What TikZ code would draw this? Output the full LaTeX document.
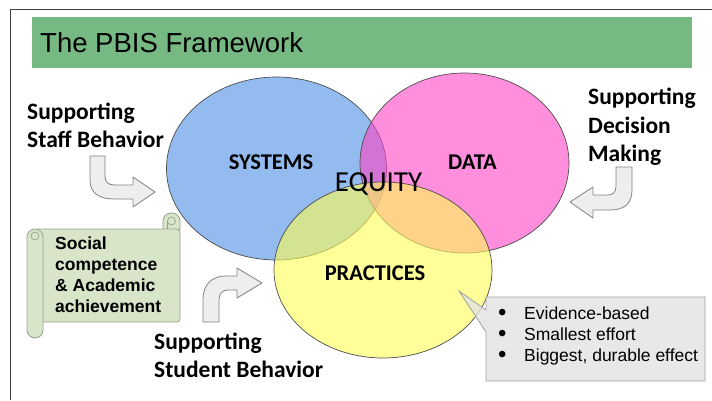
\documentclass[tikz,border=0pt]{standalone}
\usepackage{fontspec}
\setmainfont{Liberation Sans}
\newfontfamily\calibri{Carlito}
\definecolor{titlegreen}{RGB}{119,185,130}
\definecolor{vblue}{RGB}{75,142,228}
\definecolor{vpink}{RGB}{255,67,197}
\definecolor{vyellow}{RGB}{255,255,85}
\definecolor{scrollfill}{RGB}{217,229,200}
\definecolor{scrolldraw}{RGB}{150,160,145}
\definecolor{calloutfill}{RGB}{226,226,226}
\definecolor{calloutdraw}{RGB}{160,160,160}
\definecolor{arrowfill}{RGB}{238,238,238}
\definecolor{arrowdraw}{RGB}{130,130,130}
\newcommand\blt{\makebox[26pt][l]{\smash{\raisebox{-1pt}{\fontsize{24}{12}\selectfont\textbullet}}}}
\begin{document}
\begin{tikzpicture}[x=1pt,y=-1pt,
  bentarrow/.style={draw=arrowdraw, fill=arrowfill, line width=0.8pt, line join=round},
  venn/.style={draw=black!70, line width=0.7pt, fill opacity=0.6},
  lbl/.style={font=\calibri\bfseries\fontsize{22.5}{28}\selectfont, inner sep=0pt, anchor=base},
  side/.style={font=\calibri\bfseries\fontsize{23.5}{28.5}\selectfont, inner sep=0pt, align=left, anchor=west},
  scrollshape/.style={draw=scrolldraw, fill=scrollfill, line width=0.8pt},
  callout/.style={draw=calloutdraw, fill=calloutfill, fill opacity=0.8, line width=0.8pt}]
\useasboundingbox (0,0) rectangle (712,400);
% frame
\draw[line width=1.3pt, draw=black!75] (10.5,400) -- (10.5,9.5) -- (712,9.5);
% title
\fill[titlegreen] (32,17) rectangle (692,68);
\node[font=\fontsize{27.5}{30}\selectfont, anchor=base west, inner sep=0pt] (title) at (40,52) {The PBIS Framework};
% venn
\draw[venn, fill=vblue] (276.5,168.5) ellipse [x radius=110, y radius=91.5];
\draw[venn, fill=vpink] (464.5,163) ellipse [x radius=104.5, y radius=90];
\draw[venn, fill=vyellow] (383,270) ellipse [x radius=109, y radius=88];
\node[lbl] (systems) at (271,169) {SYSTEMS};
\node[lbl] (data) at (472.5,169) {DATA};
\node[lbl] (practices) at (375,280) {PRACTICES};
\node[font=\calibri\fontsize{29}{32}\selectfont, inner sep=0pt, anchor=base] (equity) at (378.5,191) {EQUITY};
% bent arrows
\draw[bentarrow] (90,156) -- (90,180) .. controls (90,194) and (100,199) .. (115,199) -- (133,199) -- (133,207) -- (155,192) -- (133,177) -- (133,185) -- (115,185) .. controls (108,185) and (105,182) .. (105,176) -- (105,156) -- cycle;
\draw[bentarrow] (632,167) -- (632,190) .. controls (632,204) and (624,210) .. (610,210) -- (593,210) -- (593,218) -- (570,202) -- (593,187) -- (593,195) -- (608,195) .. controls (613,195) and (616,192) .. (616,186) -- (616,167) -- cycle;
\draw[bentarrow] (203,322) -- (203,300) .. controls (203,284) and (212,276) .. (226,276) -- (237,276) -- (237,268) -- (262,283) -- (237,298) -- (237,290) -- (228,290) .. controls (222,290) and (219,294) .. (219,300) -- (219,322) -- cycle;
% side labels
\node[side] (staff) at (27,125.3) {Supporting\\Staff Behavior};
\node[side] (decision) at (588,127) {Supporting\\Decision\\Making};
\node[side] (student) at (154,355.2) {Supporting\\Student Behavior};
% scroll
\draw[scrollshape, rounded corners=8pt] (163,236) rectangle (180,213);
\draw[scrollshape, rounded corners=3pt] (35,229) rectangle (180,322);
\draw[scrollshape, rounded corners=8pt] (27,229) rectangle (43,338);
\draw[draw=scrolldraw, line width=0.7pt] (35,236) circle [radius=4];
\draw[draw=scrolldraw, line width=0.7pt] (171.5,221) circle [radius=4];
\draw[draw=scrolldraw, line width=0.7pt] (167.5,221) -- (167.5,229);
\node[font=\bfseries\fontsize{17.5}{21}\selectfont, inner sep=0pt, align=left, anchor=west] (goal) at (55,275.1) {Social\\competence\\\& Academic\\achievement};
% callout
\draw[callout] (486,297) -- (705,297) -- (705,381) -- (486,381) -- (486,332) -- (459,291) -- (486,310) -- cycle;
\node[font=\fontsize{17.5}{21}\selectfont, inner sep=0pt, align=left, anchor=west] (features) at (498,335.6) {\blt Evidence-based\\\blt Smallest effort\\\blt Biggest, durable effect};
\end{tikzpicture}
\end{document}
